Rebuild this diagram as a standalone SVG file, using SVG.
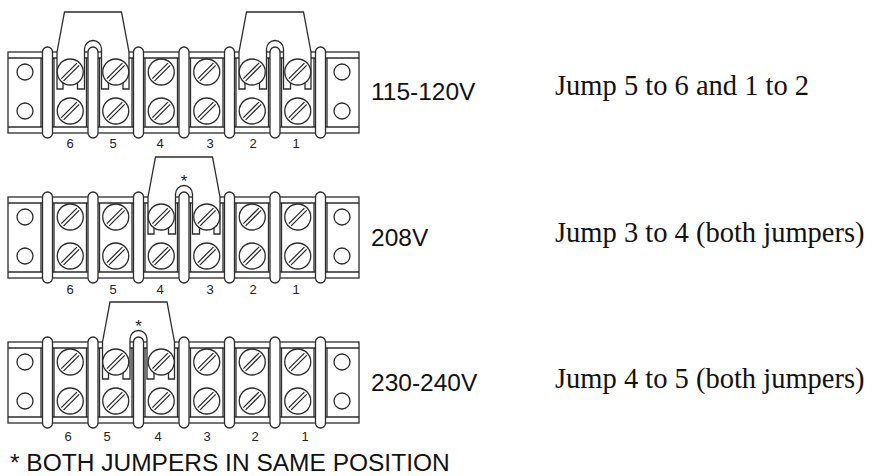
<svg xmlns="http://www.w3.org/2000/svg" xmlns:xlink="http://www.w3.org/1999/xlink" width="873" height="476" viewBox="0 0 873 476">
<style>
.ln{fill:none;stroke:#2b2b2b;stroke-width:1.3}
.wf{fill:#fff;stroke:#2b2b2b;stroke-width:1.3}
.num{font-family:"Liberation Sans",Arial,sans-serif;font-size:13px;fill:#222;text-anchor:middle}
.volt{font-family:"Liberation Sans",Arial,sans-serif;font-size:24.5px;fill:#111}
.jump{font-family:"Liberation Serif","Times New Roman",serif;font-size:28.5px;fill:#111}
.star{font-family:"Liberation Sans",Arial,sans-serif;font-size:17px;fill:#222;text-anchor:middle}
.note{font-family:"Liberation Sans",Arial,sans-serif;font-size:24.5px;fill:#111}
</style>
<defs>
<g id="screw">
<circle class="wf" r="13"/>
<line class="ln" x1="-6.65" y1="8.91" x2="8.91" y2="-6.65"/>
<line class="ln" x1="-8.91" y1="6.65" x2="6.65" y2="-8.91"/>
</g>
<rect id="pill" class="wf" x="-5" y="-5" width="10" height="91" rx="5"/>
<g id="base">
<rect class="wf" x="8" y="0" width="351" height="81"/>
<line class="ln" x1="8" y1="6" x2="359" y2="6"/>
<line class="ln" x1="8" y1="75" x2="359" y2="75"/>
<circle class="wf" cx="25" cy="20" r="8"/>
<circle class="wf" cx="25" cy="59" r="8"/>
<circle class="wf" cx="342" cy="20" r="8"/>
<circle class="wf" cx="342" cy="59" r="8"/>
<path class="ln" d="M41,6V75M54,6V75M86.5,6V75M99.5,6V75M132,6V75M145,6V75M177.5,6V75M190.5,6V75M223,6V75M236,6V75M268.5,6V75M281.5,6V75M314,6V75M327,6V75"/>
</g>
<g id="screws">
<use xlink:href="#screw" x="70.25" y="20"/><use xlink:href="#screw" x="115.75" y="20"/><use xlink:href="#screw" x="161.25" y="20"/><use xlink:href="#screw" x="206.75" y="20"/><use xlink:href="#screw" x="252.25" y="20"/><use xlink:href="#screw" x="297.75" y="20"/>
<use xlink:href="#screw" x="70.25" y="59"/><use xlink:href="#screw" x="115.75" y="59"/><use xlink:href="#screw" x="161.25" y="59"/><use xlink:href="#screw" x="206.75" y="59"/><use xlink:href="#screw" x="252.25" y="59"/><use xlink:href="#screw" x="297.75" y="59"/>
</g>
<g id="pills">
<use xlink:href="#pill" x="47.5"/><use xlink:href="#pill" x="93"/><use xlink:href="#pill" x="138.5"/><use xlink:href="#pill" x="184"/><use xlink:href="#pill" x="229.5"/><use xlink:href="#pill" x="275"/><use xlink:href="#pill" x="320.5"/>
</g>
<path id="jumper" class="wf" d="M-36,37L-36,0L-28.5,-40L28.5,-40L36,0L36,37L30,37L30,31L15.5,31L15.5,37L8.5,37L8.5,-3A8.5,8.5 0 0 0 -8.5,-3L-8.5,37L-15.5,37L-15.5,31L-30,31L-30,37Z"/>
</defs>

<g id="block-115-120V" transform="translate(0,52)">
<use xlink:href="#base"/>
<use xlink:href="#jumper" x="93"/>
<use xlink:href="#jumper" x="275"/>
<use xlink:href="#screws"/>
<use xlink:href="#pills"/>
<text class="num" x="70" y="96">6</text><text class="num" x="113" y="96">5</text><text class="num" x="160" y="96">4</text><text class="num" x="210" y="96">3</text><text class="num" x="253" y="96">2</text><text class="num" x="296" y="96">1</text>
<text class="volt" x="371" y="48">115-120V</text>
</g>

<g id="block-208V" transform="translate(0,197)">
<use xlink:href="#base"/>
<use xlink:href="#jumper" x="184"/>
<use xlink:href="#screws"/>
<use xlink:href="#pills"/>
<text class="star" x="184" y="-10">*</text>
<text class="num" x="70" y="97">6</text><text class="num" x="113" y="97">5</text><text class="num" x="160" y="97">4</text><text class="num" x="210" y="97">3</text><text class="num" x="253" y="97">2</text><text class="num" x="296" y="97">1</text>
<text class="volt" x="371" y="49">208V</text>
</g>

<g id="block-230-240V" transform="translate(0,342)">
<use xlink:href="#base"/>
<use xlink:href="#jumper" x="138.5"/>
<use xlink:href="#screws"/>
<use xlink:href="#pills"/>
<text class="star" x="138.5" y="-10">*</text>
<text class="num" x="68" y="99">6</text><text class="num" x="107" y="99">5</text><text class="num" x="158" y="99">4</text><text class="num" x="207" y="99">3</text><text class="num" x="255" y="99">2</text><text class="num" x="305" y="99">1</text>
<text class="volt" x="371" y="49">230-240V</text>
</g>

<g id="instructions">
<text class="jump" x="555" y="95">Jump 5 to 6 and 1 to 2</text>
<text class="jump" x="555" y="242">Jump 3 to 4 (both jumpers)</text>
<text class="jump" x="555" y="388">Jump 4 to 5 (both jumpers)</text>
</g>
<text id="footnote" class="note" x="10" y="471">* BOTH JUMPERS IN SAME POSITION</text>
<g id="connectors"/>
</svg>
